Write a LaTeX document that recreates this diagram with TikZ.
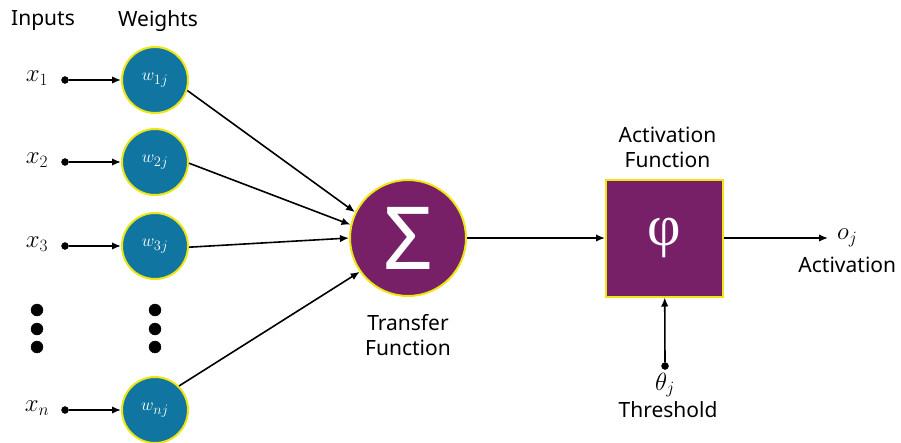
\documentclass[tikz,border=0pt]{standalone}
\usepackage{amsmath}
\usepackage{fontspec}
\setmainfont{Noto Sans}
\newfontfamily\phifont{Liberation Serif}
\usetikzlibrary{calc, arrows.meta, shapes, positioning}
\definecolor{weightblue}{RGB}{16, 117, 160}
\definecolor{sumpurple}{RGB}{119, 32, 103}
\definecolor{rimyellow}{RGB}{238, 230, 20}
\tikzset{
    weightnode/.style = {circle, draw=rimyellow, line width=2pt, fill=weightblue, text=white,
      inner sep = 0em, minimum size=66pt, node distance=0em, font=\fontsize{19}{22}\selectfont},
    sumnode/.style = {circle, draw=rimyellow, line width=2pt, fill=sumpurple, text=white,
      inner sep = 0em, minimum size=116pt, node distance=0em},
    actnode/.style = {draw=rimyellow, rectangle, line width=2pt, fill=sumpurple, text=white,
      inner sep = 0em, minimum size=117pt, node distance=0em},
    textnode/.style = {draw=none, fill=none, rectangle, inner sep = 0em, node distance=0em,
      font=\fontsize{21}{25}\selectfont, align=center},
    mathnode/.style = {draw=none, fill=none, rectangle, inner sep = 0em, node distance=0em,
      font=\fontsize{26}{30}\selectfont},
    dotnode/.style = {draw, fill=black, circle, minimum size=7pt, inner sep = 0em, node distance=0em},
    bigdotnode/.style = {draw, fill=black, circle, minimum size=12pt, inner sep = 0em, node distance=0em},
    connect/.style = {black, line width=1.6pt, -{Latex[length=9pt, width=7.5pt]}}
}

\begin{document}
\begin{tikzpicture}[x=1pt, y=-1pt]
    \useasboundingbox (0,0) rectangle (901,442);

    % weights
    \node [name = W1, weightnode] at (155,80) {$w_{1j}$};
    \node [name = W2, weightnode, below of = W1, yshift=-82pt] {$w_{2j}$};
    \node [name = W3, weightnode, below of = W2, yshift=-84pt] {$w_{3j}$};
    \node [name = Wn, weightnode, below of = W3, yshift=-164pt] {$w_{nj}$};

    % inputs
    \node [name = D1, dotnode, left of = W1, xshift=-90pt] {};
    \node [name = D2, dotnode, left of = W2, xshift=-90pt] {};
    \node [name = D3, dotnode, left of = W3, xshift=-90pt] {};
    \node [name = Dn, dotnode, left of = Wn, xshift=-90pt] {};
    \node [name = X1, mathnode, left of = D1, xshift=-28pt, yshift=2pt] {$x_1$};
    \node [name = X2, mathnode, left of = D2, xshift=-28pt, yshift=2pt] {$x_2$};
    \node [name = X3, mathnode, left of = D3, xshift=-28pt, yshift=2pt] {$x_3$};
    \node [name = Xn, mathnode, left of = Dn, xshift=-28pt, yshift=2pt] {$x_n$};

    \node [name = Inputs, textnode] at (43,21) {Inputs};
    \node [name = Weights, textnode] at (158,21) {Weights};

    % vertical dots
    \node [name = VA1, bigdotnode] at (37,310) {};
    \node [name = VA2, bigdotnode] at (37,329) {};
    \node [name = VA3, bigdotnode] at (37,347) {};
    \node [name = VB1, bigdotnode] at (155,310) {};
    \node [name = VB2, bigdotnode] at (155,329) {};
    \node [name = VB3, bigdotnode] at (155,347) {};

    % transfer and activation
    \node [name = Sum, sumnode] at (408,238) {\fontsize{87}{87}\selectfont Σ};
    \node [name = Transfer, textnode, below of = Sum, yshift=-97pt] {Transfer\\Function};
    \node [name = Act, actnode] at (664.5,238) {\phifont\fontsize{58}{58}\selectfont φ};
    \node [name = ActLabel, textnode, above of = Act, yshift=91pt, xshift=3pt] {Activation\\Function};

    \node [name = Out, mathnode, anchor=west] at (837,238) {$o_j$};
    \node [name = OutLabel, textnode, below of = Out, yshift=-27pt] {Activation};

    \node [name = T, dotnode] at (665,366) {};
    \node [name = Theta, mathnode, below of = T, yshift=-19pt] {$\theta_j$};
    \node [name = ThresholdLabel, textnode, below of = T, yshift=-44pt, xshift=3pt] {Threshold};

    \draw (D1) edge[connect] (W1);
    \draw (D2) edge[connect] (W2);
    \draw (D3) edge[connect] (W3);
    \draw (Dn) edge[connect] (Wn);

    \draw (W1.-18) edge[connect] (Sum.154);
    \draw (W2.-2) edge[connect] (Sum.167);
    \draw (W3.-2) edge[connect] (Sum.180);
    \draw (Wn.45) edge[connect] (Sum.215);

    \draw (Sum) edge[connect] (Act);
    \draw (Act) edge[connect, shorten >=9pt] (Out.west);
    \draw (T) edge[connect] (Act);
\end{tikzpicture}
\end{document}
